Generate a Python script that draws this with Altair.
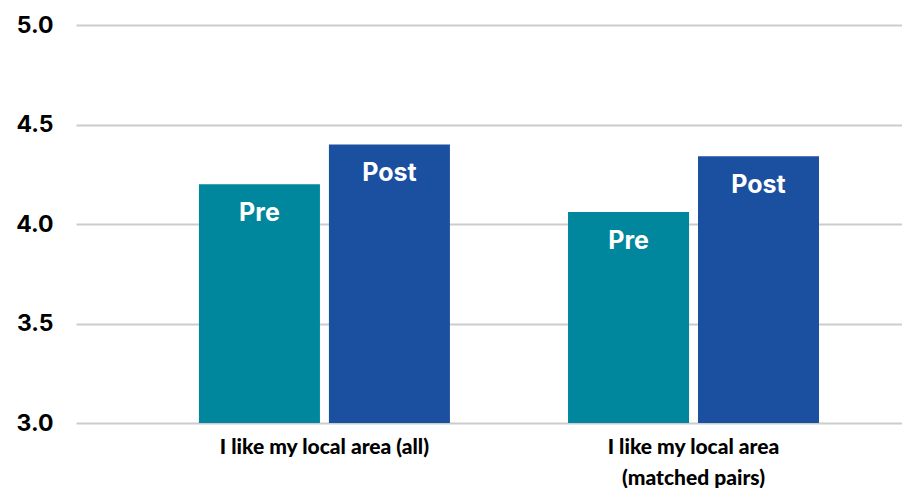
import altair as alt
import pandas as pd

categories = ["I like my local area (all)", "I like my local area (matched pairs)"]
phases = ["Pre", "Post"]
pre_values = [4.20, 4.06]
post_values = [4.40, 4.34]
y_ticks = [3.0, 3.5, 4.0, 4.5, 5.0]
colors = ["#00879D", "#1B4F9F"]

rows = []
for c, pv, qv in zip(categories, pre_values, post_values):
    rows.append({"category": c, "phase": "Pre", "value": pv})
    rows.append({"category": c, "phase": "Post", "value": qv})
df = pd.DataFrame(rows)

FONT = "Lato"
FONT2 = "Inter"

x_enc = alt.X(
    "category:N",
    sort=categories,
    scale=alt.Scale(paddingInner=0.32, paddingOuter=0.279, align=0.597),
    axis=alt.Axis(
        title=None,
        labelAngle=0,
        labelFont=FONT,
        labelFontSize=21,
        labelFontWeight=900,
        labelColor="#000000",
        labelPadding=13,
        labelLimit=400,
        labelLineHeight=31,
        domain=False,
        ticks=False,
        grid=False,
        labelExpr="datum.label == 'I like my local area (matched pairs)' ? ['I like my local area', '(matched pairs)'] : datum.label",
    ),
)
xoff_enc = alt.XOffset("phase:N", sort=phases, scale=alt.Scale(paddingInner=0.069, paddingOuter=0))
y_enc = alt.Y(
    "value:Q",
    scale=alt.Scale(domain=[3, 5], zero=False, nice=False, clamp=True),
    axis=alt.Axis(
        title=None,
        values=y_ticks,
        format=".1f",
        labelFont=FONT2,
        labelFontSize=23,
        labelFontWeight="bold",
        labelColor="#000000",
        labelPadding=23,
        domain=False,
        ticks=False,
        gridColor="#CCCCCC",
        gridWidth=2,
        minExtent=68,
        maxExtent=68,
    ),
)

bars = alt.Chart(df).mark_bar().encode(
    x=x_enc,
    xOffset=xoff_enc,
    y=y_enc,
    color=alt.Color("phase:N", sort=phases, scale=alt.Scale(domain=phases, range=colors), legend=None),
)

labels = alt.Chart(df).mark_text(
    font=FONT2, fontSize=25, fontWeight="bold", color="white", baseline="middle", dy=29
).encode(
    x=alt.X("category:N", sort=categories),
    xOffset=alt.XOffset("phase:N", sort=phases),
    y=alt.Y("value:Q"),
    text="phase:N",
)

chart = (
    alt.layer(bars, labels)
    .properties(
        width=826,
        height=398,
        padding={"left": 0, "top": 6, "right": 0, "bottom": 0},
    )
    .configure_view(stroke=None)
)

chart.save("out.html", embed_options={"renderer": "svg", "actions": False})
